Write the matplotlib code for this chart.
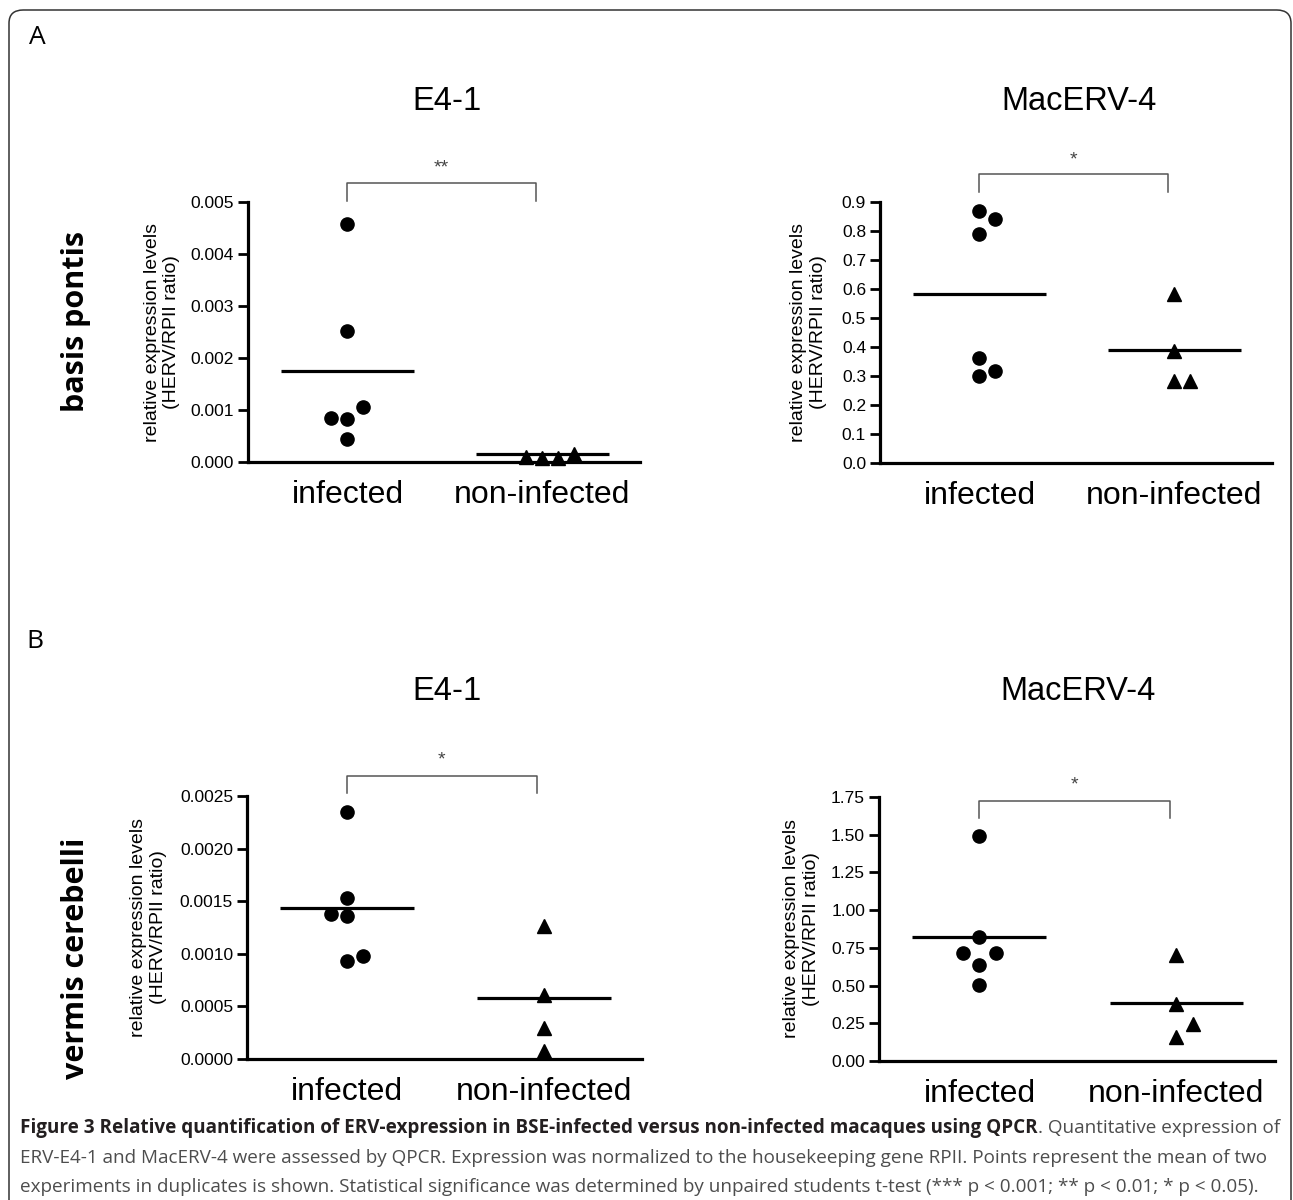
import matplotlib.pyplot as plt
import matplotlib.transforms as mtransforms
from matplotlib.patches import FancyBboxPatch
from matplotlib.ticker import FormatStrFormatter, MultipleLocator

groups = ['infected', 'non-infected']

# A, basis pontis, E4-1
bp_e4_inf = [0.00458, 0.00252, 0.00106, 0.00085, 0.00083, 0.00044]
bp_e4_non = [0.00010, 0.00007, 0.00007, 0.00015]
bp_e4_means = [0.00175, 0.000145]
bp_e4_inf_jit = [0, 0, 1, -1, 0, 0]
bp_e4_non_jit = [-1, 0, 1, 2]

# A, basis pontis, MacERV-4
bp_mac_inf = [0.870, 0.840, 0.790, 0.363, 0.318, 0.300]
bp_mac_non = [0.583, 0.387, 0.283, 0.283]
bp_mac_means = [0.584, 0.389]
bp_mac_inf_jit = [0, 1, 0, 0, 1, 0]
bp_mac_non_jit = [0, 0, 0, 1]

# B, vermis cerebelli, E4-1
vc_e4_inf = [0.00235, 0.00153, 0.00138, 0.00136, 0.00098, 0.00093]
vc_e4_non = [0.00126, 0.00061, 0.00029, 0.00008]
vc_e4_means = [0.00144, 0.00058]
vc_e4_inf_jit = [0, 0, -1, 0, 1, 0]
vc_e4_non_jit = [0, 0, 0, 0]

# B, vermis cerebelli, MacERV-4
vc_mac_inf = [1.493, 0.824, 0.713, 0.713, 0.636, 0.507]
vc_mac_non = [0.700, 0.381, 0.248, 0.160]
vc_mac_means = [0.824, 0.385]
vc_mac_inf_jit = [0, 0, -1, 1, 0, 0]
vc_mac_non_jit = [0, 0, 1, 0]

stars = ['**', '*', '*', '*']

FONT = 'Liberation Sans'
W, H = 1293, 1200

fig = plt.figure(figsize=(W / 100, H / 100), dpi=100)


def px(x, y):
    return x / W, 1 - y / H


def panel(rect, inf, non, means, inf_jit, non_jit, ytop, ystep, fmt,
          ylab_x, star, br_lo, br_hi, star_y):
    ax = fig.add_axes(rect)
    step = 0.082
    ax.plot([1 + j * step for j in inf_jit], inf, 'o', color='black',
            markersize=9.5, clip_on=False, zorder=3)
    ax.plot([2 + j * step for j in non_jit], non, '^', color='black',
            markersize=10.5, clip_on=False, zorder=3)
    for i, m in enumerate(means):
        ax.plot([i + 1 - 0.34, i + 1 + 0.34], [m, m], color='black', lw=2.3,
                solid_capstyle='butt', zorder=2)
    ax.set_xlim(0.49, 2.5)
    ax.set_ylim(0, ytop)
    ax.yaxis.set_major_locator(MultipleLocator(ystep))
    ax.yaxis.set_major_formatter(FormatStrFormatter(fmt))
    for s in ['top', 'right']:
        ax.spines[s].set_visible(False)
    for s in ['left', 'bottom']:
        ax.spines[s].set_linewidth(2.3)
    ax.set_xticks([1, 2])
    ax.set_xticklabels(groups, fontsize=23, family=FONT)
    ax.tick_params(axis='x', length=0, pad=13)
    ax.tick_params(axis='y', length=7, width=2.0, pad=3, labelsize=12.5)
    for t in ax.get_yticklabels():
        t.set_family(FONT)
    ax.set_ylabel('relative expression levels\n(HERV/RPII ratio)',
                  fontsize=14, family=FONT)
    ax.yaxis.set_label_coords(ylab_x, 0.5)
    # significance bracket
    tr = mtransforms.blended_transform_factory(ax.transData, ax.transAxes)
    ax.plot([1.0, 1.0, 1.965, 1.965], [br_lo, br_hi, br_hi, br_lo],
            color='#555555', lw=1.1, transform=tr, clip_on=False)
    ax.text(1.48, star_y, star, transform=tr, ha='center', va='baseline',
            fontsize=14, color='#444444', family=FONT)
    return ax


panel([248 / W, 1 - 462 / H, 392 / W, 260 / H], bp_e4_inf, bp_e4_non,
      bp_e4_means, bp_e4_inf_jit, bp_e4_non_jit, 0.005, 0.001, '%.3f',
      -0.173, stars[0], 1.004, 1.073, 1.112)
panel([880 / W, 1 - 463 / H, 392 / W, 261 / H], bp_mac_inf, bp_mac_non,
      bp_mac_means, bp_mac_inf_jit, bp_mac_non_jit, 0.9, 0.1, '%.1f',
      -0.135, stars[1], 1.038, 1.107, 1.142)
panel([247 / W, 1 - 1059 / H, 395 / W, 263 / H], vc_e4_inf, vc_e4_non,
      vc_e4_means, vc_e4_inf_jit, vc_e4_non_jit, 0.0025, 0.0005, '%.4f',
      -0.203, stars[2], 1.011, 1.076, 1.118)
panel([879 / W, 1 - 1061 / H, 396 / W, 264 / H], vc_mac_inf, vc_mac_non,
      vc_mac_means, vc_mac_inf_jit, vc_mac_non_jit, 1.75, 0.25, '%.2f',
      -0.149, stars[3], 0.92, 0.985, 1.027)

# titles
for (x, y), t in [((447, 101), 'E4-1'), ((1079, 101), 'MacERV-4'),
                  ((447, 691), 'E4-1'), ((1078, 691), 'MacERV-4')]:
    fig.text(*px(x, y), t, ha='center', va='center', fontsize=23.5, family=FONT)

# panel letters and row labels
fig.text(*px(37, 38), 'A', ha='center', va='center', fontsize=19,
         family='Open Sans')
fig.text(*px(35, 641), 'B', ha='center', va='center', fontsize=19,
         family='Open Sans')
fig.text(*px(76, 322), 'basis pontis', rotation=90, ha='center', va='center',
         fontsize=22, fontweight='bold', family='Open Sans')
fig.text(*px(76, 958), 'vermis cerebelli', rotation=90, ha='center',
         va='center', fontsize=22, fontweight='bold', family='Open Sans')

# caption
cap_size = 13.6
bold_part = ('Figure 3 Relative quantification of ERV-expression in '
             'BSE-infected versus non-infected macaques using QPCR')
t1 = fig.text(*px(20, 1128), bold_part, ha='left', va='center',
              fontsize=cap_size, fontweight='bold', family='Open Sans',
              color='#231f20')
fig.canvas.draw()
bb = t1.get_window_extent()
fig.text(bb.x1 / W, 1 - 1128 / H, '. Quantitative expression of',
         ha='left', va='center', fontsize=cap_size, family='Open Sans',
         color='#4d4d4d')
fig.text(*px(20, 1158),
         'ERV-E4-1 and MacERV-4 were assessed by QPCR. Expression was '
         'normalized to the housekeeping gene RPII. Points represent the '
         'mean of two', ha='left', va='center', fontsize=cap_size,
         family='Open Sans', color='#4d4d4d')
fig.text(*px(20, 1187),
         'experiments in duplicates is shown. Statistical significance was '
         'determined by unpaired students t-test (*** p < 0.001; ** p < 0.01; '
         '* p < 0.05).', ha='left', va='center', fontsize=cap_size,
         family='Open Sans', color='#4d4d4d')

# rounded frame
frame = FancyBboxPatch((9 / W, -0.02), 1282 / W, 1.02 - 10 / H,
                       boxstyle='round,pad=0,rounding_size=0.011',
                       transform=fig.transFigure, fill=False,
                       edgecolor='#333333', lw=1.1)
fig.patches.append(frame)

fig.savefig('out.png', dpi=100)
